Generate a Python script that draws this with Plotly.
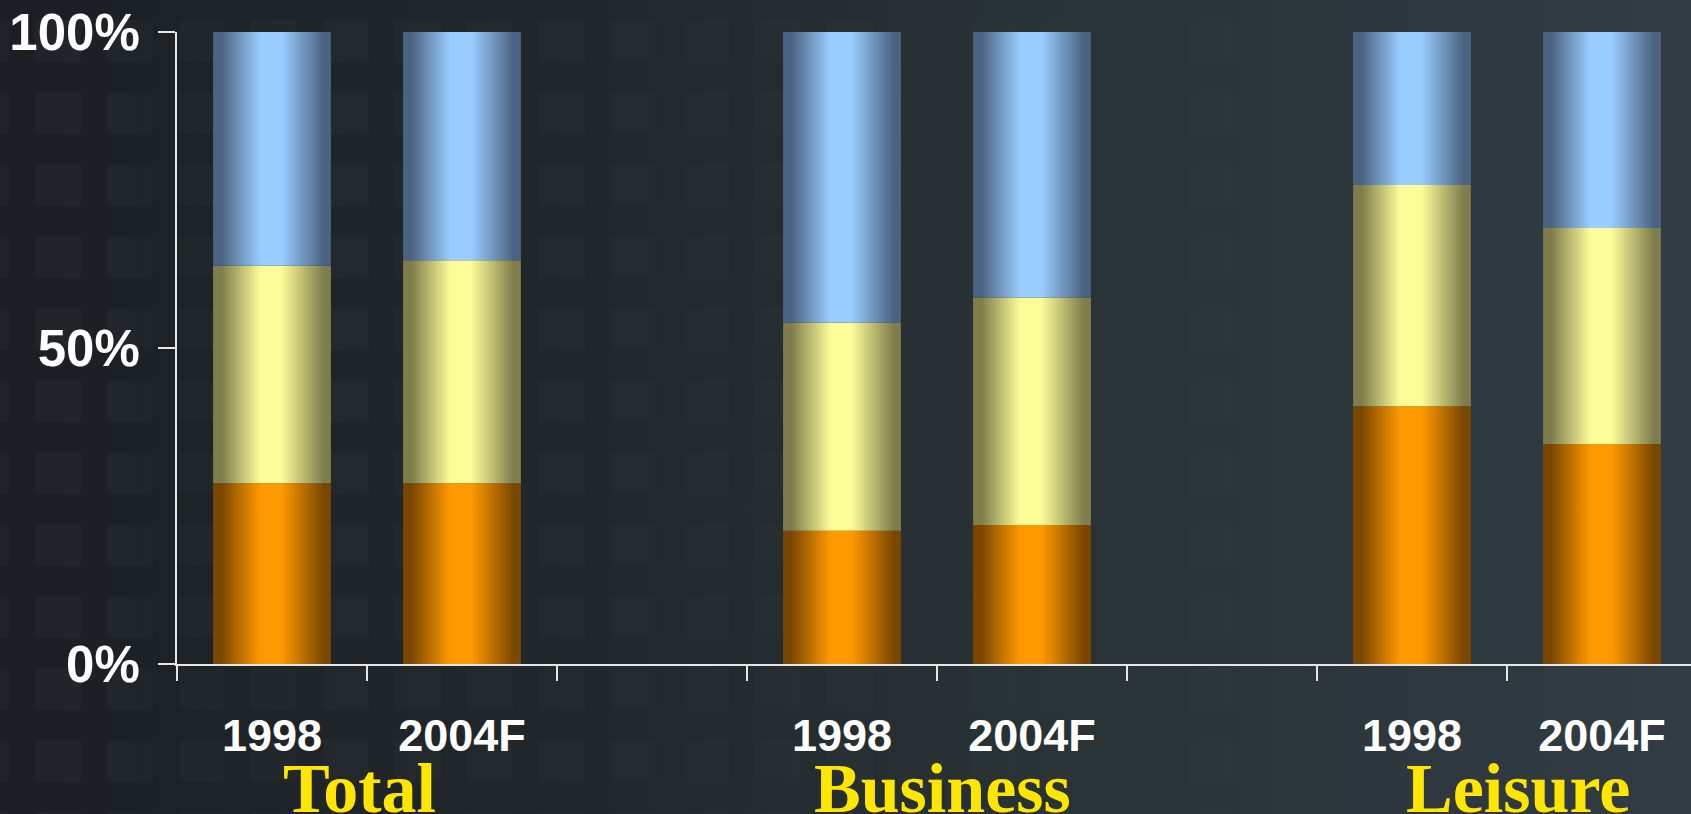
import base64
import plotly.graph_objects as go

# Share of trips by segment (percent of each bar)
groups = ["Total", "Business", "Leisure"]
years = ["1998", "2004F"]
orange_share = [28.6, 28.6, 21.1, 22.0, 40.8, 34.8]
yellow_share = [34.4, 35.3, 32.9, 36.0, 35.0, 34.2]
blue_share = [37.0, 36.1, 46.0, 42.0, 24.2, 31.0]
y_ticks = [0, 50, 100]
y_tick_text = ["0%", "50%", "100%"]

BAR_WIDTH = 0.62
SLOTS_PER_GROUP = 3  # two bars plus an empty spacer slot


def cylinder_scale(dark, light):
    return [[0.0, dark], [0.07, dark], [0.40, light], [0.58, light],
            [0.94, dark], [1.0, dark]]


series = [
    (orange_share, cylinder_scale("#7a4700", "#ff9900")),
    (yellow_share, cylinder_scale("#7e7d4b", "#fcfc99")),
    (blue_share, cylinder_scale("#4b6382", "#99ccff")),
]

fig = go.Figure()

# x positions of the bars: group g, year j -> slot 3g + j
positions = []
labels = []
for g, _ in enumerate(groups):
    for j, yr in enumerate(years):
        positions.append(g * SLOTS_PER_GROUP + j)
        labels.append(yr)

bases = [0.0] * len(positions)
for values, scale in series:
    for i, (xc, v) in enumerate(zip(positions, values)):
        x0, x1 = xc - BAR_WIDTH / 2, xc + BAR_WIDTH / 2
        y0, y1 = bases[i], bases[i] + v
        fig.add_trace(go.Scatter(
            x=[x0, x1, x1, x0, x0],
            y=[y0, y0, y1, y1, y0],
            mode="lines",
            line=dict(width=0),
            fill="toself",
            fillgradient=dict(type="horizontal", colorscale=scale),
            hoverinfo="skip",
            showlegend=False,
        ))
        bases[i] = y1

# Background: dark slate gradient with a faint tiled-square texture
W, H = 1691, 814
svg = f'''<svg xmlns="http://www.w3.org/2000/svg" width="{W}" height="{H}">
<defs>
<linearGradient id="g" x1="0" y1="0" x2="1" y2="0">
<stop offset="0" stop-color="#1b1f23"/>
<stop offset="0.35" stop-color="#21282b"/>
<stop offset="0.62" stop-color="#293235"/>
<stop offset="1" stop-color="#313c44"/>
</linearGradient>
<pattern id="p" x="35" y="20" width="72" height="72" patternUnits="userSpaceOnUse">
<rect x="0" y="0" width="46" height="42" rx="3" fill="#ffffff" fill-opacity="0.022"/>
</pattern>
<linearGradient id="fade" x1="0" y1="0" x2="1" y2="0">
<stop offset="0" stop-color="#ffffff"/>
<stop offset="0.55" stop-color="#ffffff" stop-opacity="0.4"/>
<stop offset="1" stop-color="#ffffff" stop-opacity="0.05"/>
</linearGradient>
<mask id="m"><rect width="{W}" height="{H}" fill="url(#fade)"/></mask>
</defs>
<rect width="{W}" height="{H}" fill="url(#g)"/>
<rect width="{W}" height="{H}" fill="url(#p)" mask="url(#m)"/>
</svg>'''
bg_uri = "data:image/svg+xml;base64," + base64.b64encode(svg.encode()).decode()

axis_color = "#e6e6e6"
n_slots = len(groups) * SLOTS_PER_GROUP - 1
boundaries = [k - 0.5 for k in range(n_slots + 1)]

fig.update_layout(
    width=W, height=H,
    margin=dict(l=177, r=0, t=32, b=150),
    paper_bgcolor="#262d31",
    plot_bgcolor="rgba(0,0,0,0)",
    showlegend=False,
    images=[dict(source=bg_uri, xref="paper", yref="paper",
                 x=-177 / 1514, y=1 + 32 / 632,
                 sizex=W / 1514, sizey=H / 632,
                 xanchor="left", yanchor="top",
                 sizing="stretch", layer="below")],
    xaxis=dict(
        range=[-0.5, -0.5 + 1514 / 190],
        tickvals=positions, ticktext=labels,
        ticks="", showgrid=False, zeroline=False,
        showline=True, linecolor=axis_color, linewidth=2,
        tickfont=dict(family="Liberation Sans", size=45, color="white",
                      weight="bold"),
        ticklabelstandoff=31,
        minor=dict(tickvals=boundaries, ticks="outside", ticklen=15,
                   tickwidth=2, tickcolor=axis_color, showgrid=False),
        fixedrange=True,
    ),
    yaxis=dict(
        range=[0, 100],
        tickvals=y_ticks, ticktext=y_tick_text,
        ticks="outside", ticklen=17, tickwidth=2, tickcolor=axis_color,
        showgrid=False, zeroline=False,
        showline=True, linecolor=axis_color, linewidth=2,
        tickfont=dict(family="Liberation Sans", size=51, color="white",
                      weight="bold"),
        ticklabelstandoff=8,
        fixedrange=True,
    ),
)

# Group titles under each pair of bars
title_x = [0.46, 3.53, 6.56]
for name, tx in zip(groups, title_x):
    fig.add_annotation(
        x=tx, xref="x", y=(664 - 788) / 632, yref="paper",
        text=name, showarrow=False, xanchor="center", yanchor="middle",
        font=dict(family="Liberation Serif", size=70, color="#ffe600",
                  weight="bold"),
    )

fig.write_html("out.html")
